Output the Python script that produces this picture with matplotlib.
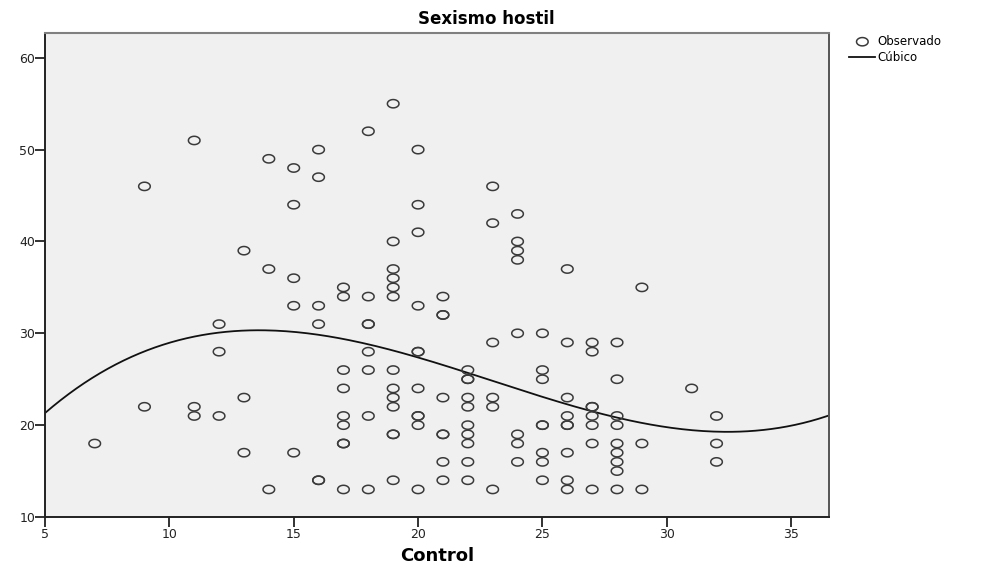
import numpy as np
import matplotlib
matplotlib.use("Agg")
import matplotlib.pyplot as plt
from matplotlib.path import Path

plt.rcParams["font.family"] = ["DejaVu Sans"]

# Control (x) and Sexismo hostil (y) values, one column at a time
control = ([7] + [9] * 2 + [11] * 3 + [12] * 3 + [13] * 3 + [14] * 3 + [15] * 5 +
           [16] * 6 + [17] * 9 + [18] * 8 + [19] * 13 + [20] * 11 + [21] * 8 +
           [22] * 10 + [23] * 6 + [24] * 8 + [25] * 8 + [26] * 9 + [27] * 8 +
           [28] * 9 + [29] * 3 + [31] + [32] * 3)
sexismo = [18,
           46, 22,
           51, 22, 21,
           31, 28, 21,
           39, 23, 17,
           49, 37, 13,
           48, 44, 36, 33, 17,
           50, 47, 33, 31, 14, 14,
           35, 34, 26, 24, 21, 20, 18, 18, 13,
           52, 34, 31, 31, 28, 26, 21, 13,
           55, 40, 37, 36, 35, 34, 26, 24, 23, 22, 19, 19, 14,
           50, 44, 41, 33, 28, 28, 24, 21, 21, 20, 13,
           34, 32, 32, 23, 19, 19, 16, 14,
           26, 25, 25, 23, 22, 20, 19, 18, 16, 14,
           46, 42, 29, 23, 22, 13,
           43, 40, 39, 38, 30, 19, 18, 16,
           30, 26, 25, 20, 20, 17, 16, 14,
           37, 29, 23, 21, 20, 20, 17, 14, 13,
           29, 28, 22, 22, 21, 20, 18, 13,
           29, 25, 21, 20, 18, 17, 16, 15, 13,
           35, 18, 13,
           24,
           21, 18, 16]

x = np.array(control, dtype=float)
y = np.array(sexismo, dtype=float)

# cubic fit like the SPSS curve estimation
coefs = np.polyfit(x, y, 3)
xs = np.linspace(5, 36.52, 300)
ys = np.polyval(coefs, xs)

# wide open circle like SPSS markers
t = np.linspace(0, 2 * np.pi, 60)
ellipse = Path(np.column_stack([np.cos(t) * 1.4, np.sin(t)]))

fig = plt.figure(figsize=(9.93, 5.68), dpi=100)
ax = fig.add_axes([0.0453, 0.0898, 0.7895, 0.8521])
ax.set_facecolor("#f0f0f0")

ax.scatter(x, y, marker=ellipse, s=70, facecolors="none", edgecolors="#3a3a3a",
           linewidths=1.1, label="Observado", zorder=3)
ax.plot(xs, ys, color="#111111", lw=1.3, label="Cúbico", zorder=2)

ax.set_xlim(5, 36.52)
ax.set_ylim(10, 62.7)
ax.set_xticks([5, 10, 15, 20, 25, 30, 35])
ax.set_yticks([10, 20, 30, 40, 50, 60])
ax.tick_params(direction="out", length=7, width=1.3, labelsize=9,
               colors="#222222")
ax.tick_params(axis="y", pad=0)
ax.tick_params(axis="x", pad=1)

for side in ["left", "bottom"]:
    ax.spines[side].set_color("#222222")
    ax.spines[side].set_linewidth(1.4)
ax.spines["top"].set_color("#808080")
ax.spines["top"].set_linewidth(1.5)
ax.spines["right"].set_color("#555555")
ax.spines["right"].set_linewidth(1.4)

ax.set_xlabel("Control", fontsize=13, fontweight="bold", labelpad=4)
fig.text(0.49, 0.951, "Sexismo hostil", fontsize=12, fontweight="bold",
         ha="center", va="bottom")

ax.legend(loc="upper left", bbox_to_anchor=(1.02, 1.006), frameon=False,
          fontsize=8.5, handlelength=2.2, handletextpad=0.2, labelspacing=0.25,
          borderaxespad=0)

plt.savefig("out.png", dpi=100)
